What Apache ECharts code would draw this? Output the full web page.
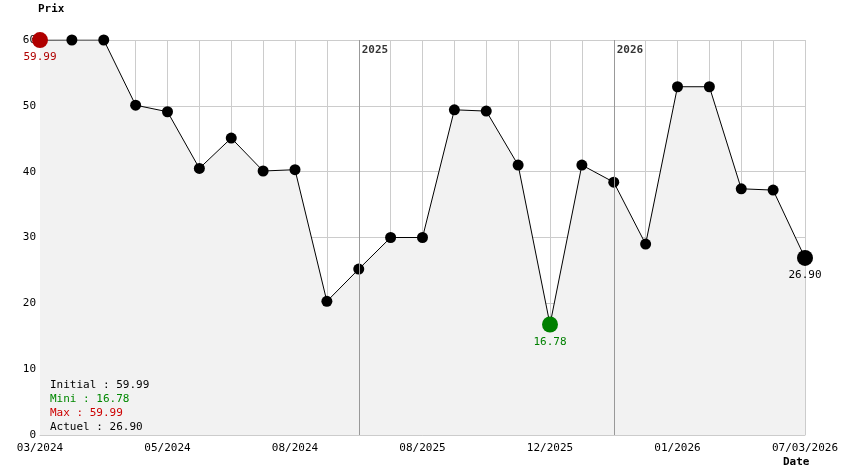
<!DOCTYPE html>
<html><head><meta charset="utf-8">
<script src="https://cdn.jsdelivr.net/npm/echarts@6/dist/echarts.min.js"></script>
<style>html,body{margin:0;padding:0;background:#fff}#c{width:844px;height:474px}</style>
</head><body><div id="c"></div>
<script>
const categories = ['03/2024','','','','05/2024','','','','08/2024','','','','08/2025','','','','12/2025','','','','01/2026','','','','07/03/2026'];
const prices = [59.99,60,60,50.1,49.1,40.5,45.1,40.1,40.3,20.3,25.2,30.0,30.0,49.4,49.2,41.0,16.78,41.0,38.4,29.0,52.9,52.9,37.4,37.2,26.9];
const yearMarks = [[10,'2025'],[18,'2026']];
const legendLines = [['Initial : 59.99','#000'],['Mini : 16.78','#080'],['Max : 59.99','#c00'],['Actuel : 26.90','#000']];
const F = 'DejaVu Sans Mono';
const minI = prices.indexOf(Math.min(...prices)), last = prices.length-1;
const data = prices.map((v,i)=>{
  let o = {value:v};
  if(i===0) o = {value:v,symbolSize:16,itemStyle:{color:'#b00000'},label:{show:true,position:'bottom',color:'#b00000',formatter:'59.99'}};
  else if(i===minI) o = {value:v,symbolSize:16,itemStyle:{color:'#008000'},label:{show:true,position:'bottom',color:'#008000',formatter:v.toFixed(2)}};
  else if(i===last) o = {value:v,symbolSize:16,label:{show:true,position:'bottom',color:'#000',formatter:v.toFixed(2)}};
  return o;
});
const chart = echarts.init(document.getElementById('c'));
chart.setOption({
  animation:false,
  textStyle:{fontFamily:F},
  grid:{left:40,right:39,top:40,bottom:39},
  xAxis:{type:'category',data:categories,boundaryGap:false,
    axisLine:{lineStyle:{color:'#ccc'}},axisTick:{show:false},
    axisLabel:{interval:0,color:'#000',fontFamily:F,fontSize:11,margin:8},
    splitLine:{show:true,interval:0,lineStyle:{color:'#ccc'}}},
  yAxis:{type:'value',min:0,max:60,interval:10,name:'Prix',nameLocation:'end',
    nameTextStyle:{fontWeight:'bold',color:'#000',fontFamily:F,fontSize:11,align:'left',padding:[0,0,10,-2]},
    axisLine:{show:false},axisTick:{show:false},
    axisLabel:{color:'#000',fontFamily:F,fontSize:11,margin:4},
    splitLine:{lineStyle:{color:'#ccc'}}},
  series:[{type:'line',data:data,symbol:'circle',symbolSize:11,
    itemStyle:{color:'#000'},lineStyle:{color:'#000',width:1},
    areaStyle:{color:'#f2f2f2',opacity:1},
    label:{fontFamily:F,fontSize:11,distance:4},
    markLine:{symbol:'none',silent:true,label:{show:false},lineStyle:{color:'#999',type:'solid',width:1},
      data:yearMarks.map(m=>({xAxis:m[0]}))}
  },{type:'scatter',symbolSize:0,data:yearMarks.map(m=>[m[0],60]),
    label:{show:true,position:'right',offset:[-2,10],fontWeight:'bold',color:'#000',fontFamily:F,fontSize:11,
      formatter:p=>yearMarks[p.dataIndex][1]}}],
  graphic:[{type:'text',z:100,left:783,top:457,style:{text:'Date',fontWeight:'bold',fontSize:11,fontFamily:F,fill:'#000'}}]
    .concat(legendLines.map((l,i)=>({type:'text',z:100,left:50,top:380+i*14,style:{text:l[0],fontSize:11,fontFamily:F,fill:l[1]}})))
});
</script></body></html>
